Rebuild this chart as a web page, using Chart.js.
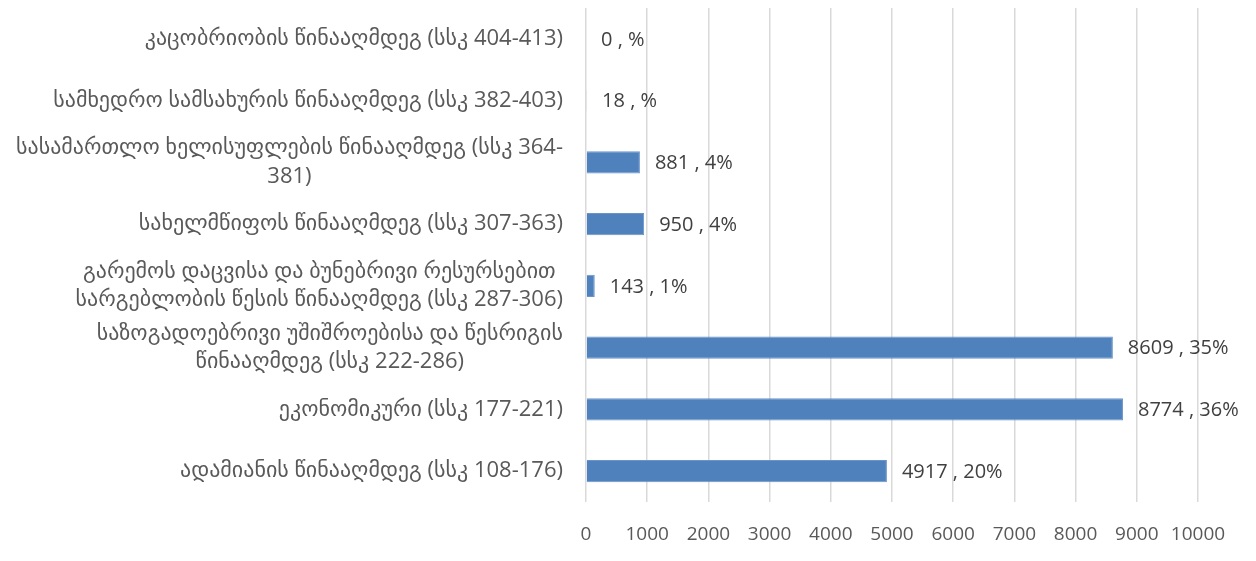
<!DOCTYPE html>
<html>
<head>
<meta charset="utf-8">
<script src="https://cdn.jsdelivr.net/npm/chart.js@4.4.0/dist/chart.umd.min.js"></script>
<style>
  html, body { margin: 0; padding: 0; background: #fff; }
  #wrap { width: 1256px; height: 561px; }
</style>
</head>
<body>
<div id="wrap"><canvas id="chart" width="1256" height="561"></canvas></div>
<script>
// categories, top to bottom
var categories = [
  "კაცობრიობის წინააღმდეგ (სსკ 404-413)",
  "სამხედრო სამსახურის წინააღმდეგ (სსკ 382-403)",
  ["სასამართლო ხელისუფლების წინააღმდეგ (სსკ 364-", "381)"],
  "სახელმწიფოს წინააღმდეგ (სსკ 307-363)",
  ["გარემოს დაცვისა და ბუნებრივი რესურსებით", "სარგებლობის წესის წინააღმდეგ (სსკ 287-306)"],
  ["საზოგადოებრივი უშიშროებისა და წესრიგის", "წინააღმდეგ (სსკ 222-286)"],
  "ეკონომიკური (სსკ 177-221)",
  "ადამიანის წინააღმდეგ (სსკ 108-176)"
];
var counts = [0, 18, 881, 950, 143, 8609, 8774, 4917];
var shares = ["", "", "4", "4", "1", "35", "36", "20"];
var xMin = 0, xMax = 10000, xStep = 1000;

var font = '"Open Sans", "DejaVu Sans", sans-serif';

// draws "value , pct%" next to each bar
var barLabels = {
  id: 'barLabels',
  afterDatasetsDraw: function(chart) {
    var ctx = chart.ctx;
    var meta = chart.getDatasetMeta(0);
    ctx.save();
    ctx.font = '20px ' + font;
    ctx.fillStyle = '#404040';
    ctx.textAlign = 'left';
    ctx.textBaseline = 'middle';
    meta.data.forEach(function(bar, i) {
      ctx.fillText(counts[i] + ' , ' + shares[i] + '%', bar.x + 15, bar.y + 1);
    });
    ctx.restore();
  }
};

// category labels: block right aligned to the axis, lines centred in the block (like Excel)
var catLabels = {
  id: 'catLabels',
  afterDraw: function(chart) {
    var ctx = chart.ctx;
    var y = chart.scales.y;
    var right = y.right - 23;
    var lineH = 28.6;
    ctx.save();
    ctx.font = '22px ' + font;
    ctx.fillStyle = '#595959';
    ctx.textAlign = 'center';
    ctx.textBaseline = 'middle';
    categories.forEach(function(lab, i) {
      var lines = Array.isArray(lab) ? lab : [lab];
      var w = 0;
      lines.forEach(function(l) { w = Math.max(w, ctx.measureText(l).width); });
      var cx = right - w / 2;
      var cy = y.getPixelForTick(i);
      lines.forEach(function(l, k) {
        ctx.fillText(l, cx, cy + (k - (lines.length - 1) / 2) * lineH);
      });
    });
    ctx.restore();
  }
};

new Chart(document.getElementById('chart').getContext('2d'), {
  type: 'bar',
  data: {
    labels: categories,
    datasets: [{
      data: counts,
      backgroundColor: '#4f81bd',
      borderColor: '#6a94c8',
      borderWidth: 1,
      barPercentage: 0.36,
      categoryPercentage: 1
    }]
  },
  options: {
    indexAxis: 'y',
    responsive: false,
    animation: false,
    layout: { padding: { top: 8, right: 58, left: 0, bottom: 0 } },
    plugins: { legend: { display: false }, tooltip: { enabled: false } },
    scales: {
      x: {
        min: xMin,
        max: xMax,
        afterFit: function(axis) {
          axis.height = 59;
          axis.paddingLeft = 0;
          axis.paddingRight = 0;
        },
        grid: { color: '#d9d9d9', lineWidth: 1.5, drawTicks: false },
        border: { display: false },
        ticks: {
          stepSize: xStep,
          autoSkip: false,
          color: '#595959',
          padding: 21,
          maxRotation: 0,
          callback: function(v) { return String(v); },
          font: { family: font, size: 19 }
        }
      },
      y: {
        afterFit: function(axis) {
          axis.width = 586;
          axis.paddingTop = 0;
          axis.paddingBottom = 0;
        },
        grid: { display: false, drawTicks: false },
        border: { display: false },
        ticks: { display: false, autoSkip: false }
      }
    }
  },
  plugins: [barLabels, catLabels]
});
</script>
</body>
</html>
